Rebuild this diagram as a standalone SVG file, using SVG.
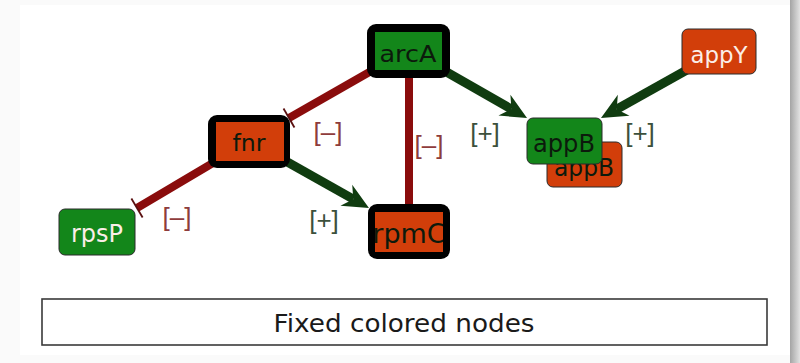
<svg xmlns="http://www.w3.org/2000/svg" width="800" height="363" viewBox="0 0 800 363">
  <defs>
    <style>
      .lbl { font-family: "DejaVu Sans", "Liberation Sans", sans-serif; text-anchor: middle; }
      .sign { font-family: "Liberation Sans", "DejaVu Sans", sans-serif; text-anchor: middle; font-size: 26px; }
      .neg { fill: #8e3c3c; }
      .pos { fill: #3c503c; }
      .inh { stroke: #8a0c0c; stroke-width: 8; fill: none; }
      .act { stroke: #103c10; stroke-width: 9; fill: none; }
      .frame { fill: #000000; }
      .thin { stroke: #2a2a2a; stroke-width: 1; }
      .green { fill: #13861a; }
      .orange { fill: #d23e0a; }
      .dark { fill: #0c1a0c; }
      .light { fill: #fbeee8; }
    </style>
    <linearGradient id="shade" x1="0" y1="0" x2="1" y2="0">
      <stop offset="0" stop-color="#a4a4a4"/>
      <stop offset="1" stop-color="#e2e2e2"/>
    </linearGradient>
    <!-- swept-back arrowhead for activation edges -->
    <marker id="arrow" markerUnits="userSpaceOnUse" viewBox="-1 -13 30 26" markerWidth="30" markerHeight="26" refX="8" refY="0" orient="auto">
      <path d="M0,-12 L26,0 L0,12 L8,0 Z" fill="#103c10"/>
    </marker>
    <!-- flat bar for inhibition edges -->
    <marker id="tee" markerUnits="userSpaceOnUse" viewBox="-3 -12 6 24" markerWidth="6" markerHeight="24" refX="0" refY="0" orient="auto">
      <path d="M0,-11 L0,11" stroke="#5a1010" stroke-width="1.8"/>
    </marker>
    <clipPath id="rpmcClip">
      <rect x="375" y="212" width="68" height="40"/>
    </clipPath>
  </defs>

  <!-- page and panel -->
  <rect x="0" y="0" width="800" height="363" fill="#fafafa"/>
  <rect x="20" y="5" width="770" height="350" fill="#ffffff"/>
  <rect x="790" y="0" width="10" height="363" fill="url(#shade)"/>

  <!-- connectors -->
  <g id="edges">
    <line class="inh" x1="408" y1="50" x2="289" y2="118" marker-end="url(#tee)"/>
    <line class="inh" x1="409" y1="50" x2="409" y2="205" marker-end="url(#tee)"/>
    <line class="act" x1="408" y1="50" x2="511.4" y2="109.1" marker-end="url(#arrow)"/>
    <line class="act" x1="719" y1="52" x2="616.7" y2="109.2" marker-end="url(#arrow)"/>
    <line class="inh" x1="250" y1="141" x2="137" y2="208" marker-end="url(#tee)"/>
    <line class="act" x1="250" y1="141" x2="353.3" y2="199.2" marker-end="url(#arrow)"/>
    <text class="sign neg" x="328" y="141">[–]</text>
    <text class="sign neg" x="429" y="154">[–]</text>
    <text class="sign pos" x="485" y="142">[+]</text>
    <text class="sign pos" x="640" y="142">[+]</text>
    <text class="sign neg" x="177" y="226">[–]</text>
    <text class="sign pos" x="324" y="229">[+]</text>
  </g>

  <!-- nodes -->
  <g id="node-arcA">
    <rect class="frame" x="367" y="24" width="83" height="54" rx="9"/>
    <rect class="green" x="375" y="32" width="67" height="38"/>
    <text class="lbl dark" x="408" y="62" font-size="23" textLength="57" lengthAdjust="spacingAndGlyphs">arcA</text>
  </g>

  <g id="node-fnr">
    <rect class="frame" x="208" y="115" width="82" height="53" rx="9"/>
    <rect class="orange" x="216" y="122" width="68" height="39"/>
    <text class="lbl dark" x="249" y="151" font-size="23" textLength="33" lengthAdjust="spacingAndGlyphs">fnr</text>
  </g>

  <g id="node-rpmC">
    <rect class="frame" x="368" y="204" width="82" height="55" rx="9"/>
    <rect class="orange" x="375" y="212" width="68" height="40"/>
    <text class="lbl dark" x="409" y="243" font-size="27" clip-path="url(#rpmcClip)">rpmC</text>
  </g>

  <g id="node-rpsP">
    <rect class="green thin" x="59" y="209" width="76" height="46" rx="6"/>
    <text class="lbl light" x="97" y="242" font-size="24" textLength="52" lengthAdjust="spacingAndGlyphs">rpsP</text>
  </g>

  <g id="node-appY">
    <rect class="orange thin" x="682" y="29" width="74" height="45" rx="6"/>
    <text class="lbl light" x="719" y="63" font-size="23" textLength="57" lengthAdjust="spacingAndGlyphs">appY</text>
  </g>

  <g id="node-appB-fixed">
    <rect class="orange thin" x="547" y="142" width="75" height="45" rx="6"/>
    <text class="lbl dark" x="584" y="176" font-size="24" textLength="60" lengthAdjust="spacingAndGlyphs">appB</text>
  </g>

  <g id="node-appB">
    <rect class="green thin" x="527" y="118" width="75" height="46" rx="6"/>
    <text class="lbl dark" x="564" y="152" font-size="24" textLength="62" lengthAdjust="spacingAndGlyphs">appB</text>
  </g>

  <!-- caption box -->
  <g id="caption">
    <rect x="42" y="299" width="725" height="46" fill="#ffffff" stroke="#3a3a3a" stroke-width="1.6"/>
    <text class="lbl" x="404" y="332" font-size="25" fill="#1a1a1a" textLength="261" lengthAdjust="spacingAndGlyphs">Fixed colored nodes</text>
  </g>
</svg>
